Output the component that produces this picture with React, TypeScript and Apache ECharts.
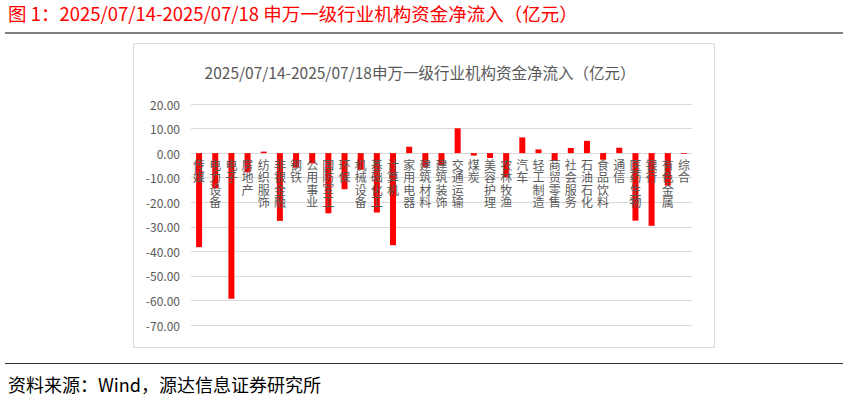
import React, { useEffect, useRef } from "react";
import * as echarts from "echarts";

const categories = [
  "传媒", "电力设备", "电子", "房地产", "纺织服饰", "非银金融", "钢铁", "公用事业",
  "国防军工", "环保", "机械设备", "基础化工", "计算机", "家用电器", "建筑材料", "建筑装饰",
  "交通运输", "煤炭", "美容护理", "农林牧渔", "汽车", "轻工制造", "商贸零售", "社会服务",
  "石油石化", "食品饮料", "通信", "医药生物", "银行", "有色金属", "综合",
];

const netInflow = [
  -38.3, -14.4, -59.3, -7.8, 0.6, -27.6, -5.9, -4.2,
  -24.5, -14.7, -6.8, -24.2, -37.5, 2.6, -5.6, -5.0,
  10.1, -1.0, -2.0, -9.8, 6.4, 1.5, -3.1, 2.1,
  5.0, -2.7, 2.2, -27.5, -29.6, -13.2, -0.3,
];

const yMin = -70;
const yMax = 20;

const headerTitle = "图 1：2025/07/14-2025/07/18 申万一级行业机构资金净流入（亿元）";
const chartTitle = "2025/07/14-2025/07/18申万一级行业机构资金净流入（亿元）";
const sourceNote = "资料来源：Wind，源达信息证券研究所";

const FONT = "'Noto Sans CJK SC', 'Noto Sans', sans-serif";

export default function App() {
  const ref = useRef<HTMLDivElement>(null);
  useEffect(() => {
    if (!ref.current) return;
    const chart = echarts.init(ref.current, undefined, { renderer: "svg" });
    const gridTop = 104;
    const gridBottom = 76;
    const plotH = 401 - gridTop - gridBottom;
    // distance from plot bottom up to the zero line
    const zeroOffset = (plotH * (0 - yMin)) / (yMax - yMin);
    chart.setOption({
      animation: false,
      backgroundColor: "#ffffff",
      textStyle: { fontFamily: FONT },
      title: {
        text: chartTitle,
        left: 415,
        textAlign: "center",
        top: 59,
        textStyle: { fontSize: 15.5, fontWeight: "normal", color: "#595959", fontFamily: FONT },
      },
      graphic: [
        {
          type: "rect",
          z: -10,
          shape: { x: 133.5, y: 43.5, width: 581, height: 304 },
          style: { fill: "#ffffff", stroke: "#d9d9d9", lineWidth: 1 },
        },
        {
          type: "text",
          x: 8,
          y: 4,
          style: { text: headerTitle, fill: "#ff0000", fontSize: 18.5, fontFamily: FONT },
        },
        {
          type: "line",
          shape: { x1: 5, y1: 33, x2: 843, y2: 33 },
          style: { stroke: "#808080", lineWidth: 2 },
        },
        {
          type: "line",
          shape: { x1: 5, y1: 363.5, x2: 843, y2: 363.5 },
          style: { stroke: "#333333", lineWidth: 1 },
        },
        {
          type: "text",
          x: 8,
          y: 375,
          style: { text: sourceNote, fill: "#000000", fontSize: 18, fontFamily: FONT },
        },
      ],
      grid: { left: 191, right: 155, top: gridTop, bottom: gridBottom, containLabel: false },
      xAxis: {
        type: "category",
        data: categories,
        offset: -zeroOffset,
        z: 10,
        axisLine: { show: false },
        axisTick: { show: false },
        axisLabel: {
          interval: 0,
          margin: 5,
          fontSize: 12,
          lineHeight: 12.4,
          color: "#595959",
          fontFamily: FONT,
          formatter: (v: string) => v.split("").join("\n"),
        },
      },
      yAxis: {
        type: "value",
        min: yMin,
        max: yMax,
        interval: 10,
        axisLine: { show: false },
        axisTick: { show: false },
        splitLine: { lineStyle: { color: "#d9d9d9", width: 1 } },
        axisLabel: {
          margin: 11,
          fontSize: 12,
          color: "#595959",
          fontFamily: FONT,
          formatter: (v: number) => v.toFixed(2),
        },
      },
      series: [
        {
          type: "bar",
          data: netInflow,
          barWidth: 6,
          z: 1,
          itemStyle: { color: "#ff0000" },
        },
      ],
    });
    return () => chart.dispose();
  }, []);
  return (
    <div
      ref={ref}
      style={{ position: "absolute", left: 0, top: 0, width: 847, height: 401 }}
    />
  );
}
